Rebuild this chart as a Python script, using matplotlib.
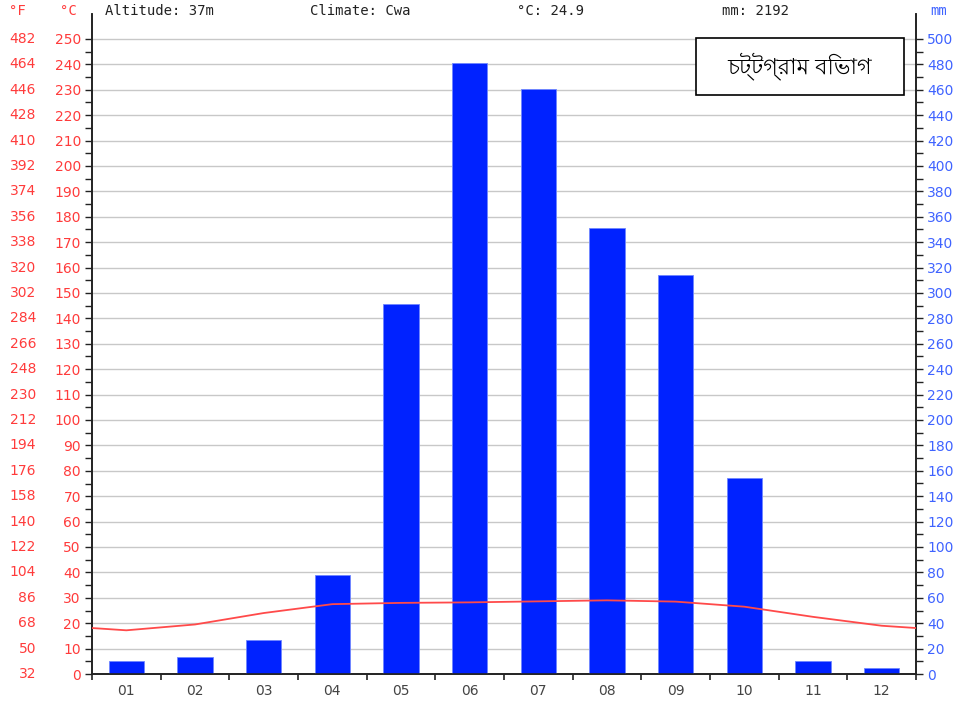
import matplotlib
matplotlib.use("Agg")
import matplotlib.pyplot as plt
import numpy as np
from matplotlib.transforms import blended_transform_factory
from matplotlib.patches import Rectangle

months = ["01", "02", "03", "04", "05", "06", "07", "08", "09", "10", "11", "12"]
precip_mm = [10, 13, 27, 78, 291, 481, 461, 351, 314, 154, 10, 5]
temp_c = [17.2, 19.5, 24.0, 27.5, 28.0, 28.2, 28.6, 29.0, 28.5, 26.5, 22.5, 19.0]
c_ticks = list(range(0, 251, 10))
mm_ticks = list(range(0, 501, 20))
header_altitude = "Altitude: 37m"
header_climate = "Climate: Cwa"
header_temp = "°C: 24.9"
header_mm = "mm: 2192"
title_text = "চট্টগ্রাম বিভাগ"

W, H = 955, 702
fig = plt.figure(figsize=(W / 100, H / 100), dpi=100)
left, right, bottom, top_px = 92, 916, 674, 14
ax = fig.add_axes([left / W, 1 - bottom / H, (right - left) / W, (bottom - top_px) / H])
ymax_c = 250 * (bottom - top_px) / (bottom - 39)
ax.set_xlim(0, 12)
ax.set_ylim(0, ymax_c)

red = "#ff3b3b"
blue = "#3f63ff"
barblue = "#0022ff"

# grid lines
for c in c_ticks[1:]:
    ax.axhline(c, color="#c8c8c8", lw=1, zorder=0)

ax2 = ax.twinx()
ax2.set_ylim(0, ymax_c * 2)

x = np.arange(12) + 0.5
ax2.bar(x, precip_mm, width=0.51, color=barblue, edgecolor="#6f86ff", linewidth=0.6, zorder=2)

# temperature line with wrap-around ends
edge = (temp_c[0] + temp_c[-1]) / 2
tx = np.concatenate([[0], x, [12]])
ty = np.concatenate([[edge], temp_c, [edge]])
ax2.plot(tx, np.array(ty) * 2, color="#ff4a4a", lw=1.3, zorder=3)

for a in (ax, ax2):
    a.spines["top"].set_visible(False)
    for s in ("left", "right", "bottom"):
        a.spines[s].set_color("#222222")
        a.spines[s].set_linewidth(1.2)

ax.set_yticks(c_ticks)
ax.set_yticks(list(range(5, 251, 10)), minor=True)
ax.set_yticklabels([str(c) for c in c_ticks])
ax.tick_params(axis="y", which="major", direction="out", length=5, width=1, colors="#222222",
               labelcolor=red, labelsize=10, pad=3)
ax.tick_params(axis="y", which="minor", direction="out", length=5, width=1, colors="#222222")

ax2.set_yticks(mm_ticks)
ax2.set_yticks(list(range(10, 501, 20)), minor=True)
ax2.set_yticklabels([str(m) for m in mm_ticks])
ax2.tick_params(axis="y", which="major", direction="out", length=5, width=1, colors="#222222",
                labelcolor=blue, labelsize=10, pad=3)
ax2.tick_params(axis="y", which="minor", direction="out", length=5, width=1, colors="#222222")

ax.set_xticks(range(13))
ax.set_xticklabels([""] * 13)
ax.set_xticks(x, minor=True)
ax.set_xticklabels(months, minor=True)
ax.tick_params(axis="x", which="major", direction="out", length=4, width=1.2, colors="#222222")
ax.tick_params(axis="x", which="minor", length=0, labelsize=10, labelcolor="#444444", pad=7)

# Fahrenheit labels
trans = blended_transform_factory(fig.transFigure, ax.transData)
for c in c_ticks:
    f = c * 1.8 + 32
    ax.text(36 / W, c, f"{f:.0f}", transform=trans, ha="right", va="center", color=red, fontsize=10)

# header
mono = "DejaVu Sans Mono"
hy = 1 - 11 / H
hs = 10
fig.text(9 / W, hy, "°F", color=red, fontsize=hs, family=mono, va="center")
fig.text(60 / W, hy, "°C", color=red, fontsize=hs, family=mono, va="center")
fig.text(105 / W, hy, header_altitude, color="#222222", fontsize=hs, family=mono, va="center")
fig.text(310 / W, hy, header_climate, color="#222222", fontsize=hs, family=mono, va="center")
fig.text(517 / W, hy, header_temp, color="#222222", fontsize=hs, family=mono, va="center")
fig.text(722 / W, hy, header_mm, color="#222222", fontsize=hs, family=mono, va="center")
fig.text(930 / W, hy, "mm", color=blue, fontsize=hs, family=mono, va="center")

# title box
bx0, bx1, by0, by1 = 696, 904, 38, 95
fig.patches.append(Rectangle((bx0 / W, 1 - by1 / H), (bx1 - bx0) / W, (by1 - by0) / H,
                             transform=fig.transFigure, facecolor="white", edgecolor="black",
                             linewidth=1.2, zorder=5))
fig.text((bx0 + bx1) / 2 / W, 1 - (by0 + by1) / 2 / H, title_text, ha="center", va="center",
         fontsize=16, family=["Lohit Bengali", "FreeSans", "DejaVu Sans"], zorder=6)

fig.savefig("out.png", dpi=100)
